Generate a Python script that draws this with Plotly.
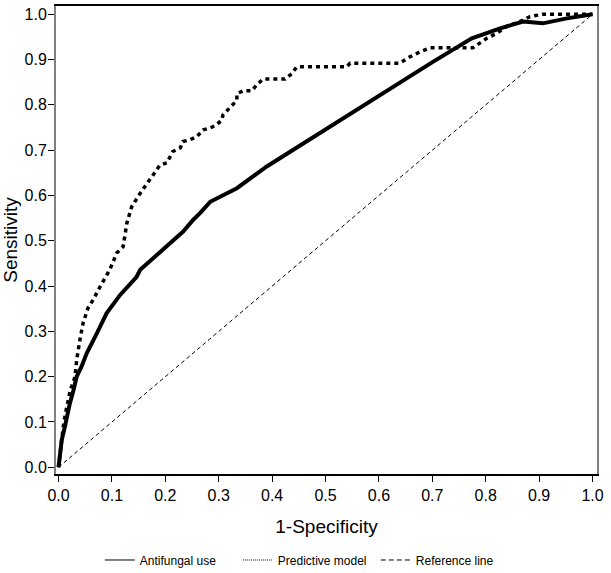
import plotly.graph_objects as go

# Predictive model ROC (1-specificity, sensitivity)
pred_fpr = [0.0, 0.003, 0.006, 0.010, 0.015, 0.022, 0.031, 0.034, 0.040, 0.046, 0.055, 0.065,
            0.078, 0.096, 0.109, 0.121, 0.128, 0.137, 0.153, 0.171, 0.177, 0.190, 0.203,
            0.214, 0.228, 0.233, 0.246, 0.259, 0.271, 0.284, 0.296, 0.306, 0.308, 0.317,
            0.327, 0.334, 0.334, 0.346, 0.362, 0.371, 0.383, 0.424, 0.437, 0.446, 0.540,
            0.546, 0.639, 0.658, 0.677, 0.696, 0.776, 0.783, 0.802, 0.821, 0.839, 0.864,
            0.883, 0.907, 1.0]
pred_tpr = [0.0, 0.03, 0.07, 0.10, 0.13, 0.17, 0.20, 0.237, 0.281, 0.318, 0.351, 0.370,
            0.399, 0.436, 0.473, 0.487, 0.539, 0.575, 0.605, 0.634, 0.645, 0.667, 0.672,
            0.697, 0.705, 0.719, 0.723, 0.730, 0.745, 0.749, 0.756, 0.767, 0.778, 0.789,
            0.800, 0.810, 0.825, 0.831, 0.831, 0.844, 0.857, 0.857, 0.869, 0.884, 0.884,
            0.892, 0.892, 0.906, 0.917, 0.926, 0.926, 0.932, 0.947, 0.958, 0.973, 0.984,
            0.995, 1.0, 1.0]

# Antifungal use ROC
anti_fpr = [0.0, 0.003, 0.006, 0.012, 0.015, 0.021, 0.028, 0.034, 0.043, 0.053, 0.072,
            0.090, 0.115, 0.140, 0.146, 0.153, 0.190, 0.233, 0.252, 0.265, 0.284, 0.334,
            0.390, 0.639, 0.701, 0.774, 0.827, 0.870, 0.907, 0.952, 1.0]
anti_tpr = [0.0, 0.03, 0.06, 0.09, 0.11, 0.14, 0.17, 0.20, 0.222, 0.252, 0.296,
            0.340, 0.380, 0.413, 0.420, 0.436, 0.476, 0.520, 0.546, 0.561, 0.586, 0.616,
            0.664, 0.851, 0.895, 0.947, 0.969, 0.984, 0.980, 0.991, 1.0]

# Reference line
ref_x = [0.0, 1.0]
ref_y = [0.0, 1.0]

tick_vals = [0.0, 0.1, 0.2, 0.3, 0.4, 0.5, 0.6, 0.7, 0.8, 0.9, 1.0]
tick_text = ["0.0", "0.1", "0.2", "0.3", "0.4", "0.5", "0.6", "0.7", "0.8", "0.9", "1.0"]

FONT = "Liberation Sans, Arial, sans-serif"

fig = go.Figure()
fig.add_trace(go.Scatter(x=ref_x, y=ref_y, mode="lines", showlegend=False,
                         line=dict(color="black", width=1, dash="4px,3px")))
fig.add_trace(go.Scatter(x=anti_fpr, y=anti_tpr, mode="lines", showlegend=False,
                         line=dict(color="black", width=4)))
fig.add_trace(go.Scatter(x=pred_fpr, y=pred_tpr, mode="lines", showlegend=False,
                         line=dict(color="black", width=3.5, dash="4px,4px")))

# legend entries (thin samples as in the original)
fig.add_trace(go.Scatter(x=[None], y=[None], mode="lines", name="Antifungal use",
                         line=dict(color="black", width=1)))
fig.add_trace(go.Scatter(x=[None], y=[None], mode="lines", name="Predictive model",
                         line=dict(color="black", width=1, dash="1px,1px")))
fig.add_trace(go.Scatter(x=[None], y=[None], mode="lines", name="Reference line",
                         line=dict(color="black", width=1, dash="5px,3px")))

fig.update_layout(
    width=611, height=573,
    margin=dict(l=56, r=14, t=6, b=99),
    paper_bgcolor="white", plot_bgcolor="white",
    font=dict(family=FONT, size=16, color="black"),
    legend=dict(orientation="h", x=0.081, xanchor="left",
                yref="container", y=0.0227, yanchor="middle",
                font=dict(size=12), entrywidth=93, entrywidthmode="pixels",
                bgcolor="rgba(0,0,0,0)"),
    xaxis=dict(range=[-0.0047, 1.0084], tickvals=tick_vals, ticktext=tick_text,
               showgrid=False, zeroline=False, showline=True, linecolor="black",
               linewidth=1.5, mirror=True, ticks="outside", ticklen=6, tickcolor="black",
               automargin=False,
               title=dict(text="1-Specificity", standoff=17)),
    yaxis=dict(range=[-0.0148, 1.0183], tickvals=tick_vals, ticktext=tick_text,
               showgrid=False, zeroline=False, showline=True, linecolor="#808080",
               linewidth=2, mirror=True, ticks="outside", ticklen=6, tickcolor="black",
               automargin=False, ticklabelstandoff=-2,
               title=dict(text="Sensitivity", standoff=4)),
)

fig.write_html("out.html", config={"displayModeBar": False},
               post_script="document.body.style.margin='0';")
